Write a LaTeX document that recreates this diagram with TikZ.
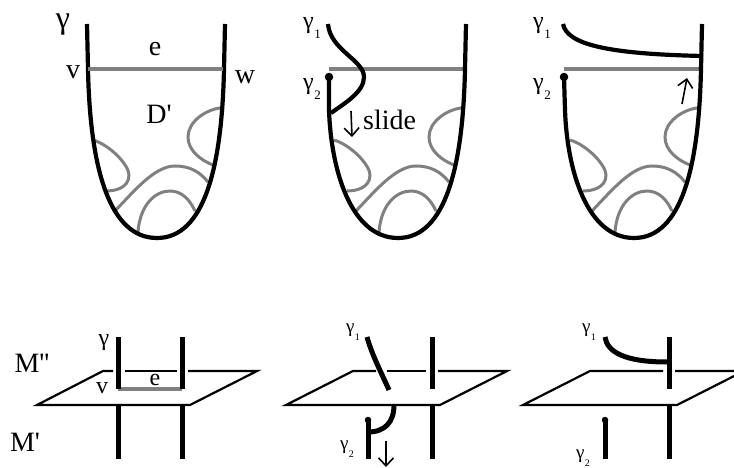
\documentclass[tikz,border=0pt]{standalone}
\usepackage{fontspec}
\setmainfont{Liberation Serif}
\usetikzlibrary{arrows.meta}
\newcommand{\gammasub}[2]{γ\kern0.02em\raisebox{-0.42em}{\fontsize{#2}{#2}\selectfont #1}}
\tikzset{
  strand/.style={line width=4.2pt},
  post/.style={line width=5pt},
  band/.style={line width=3pt, color=black!50},
  bandedge/.style={line width=3.8pt, color=black!50},
  plane/.style={line width=2.2pt, line join=miter},
  slidearrow/.style={line width=1.6pt, -{Straight Barb[length=8pt, width=15pt, line width=1.6pt]}},
  lbl/.style={inner sep=0pt, font=\fontsize{28}{30}\selectfont},
  sublbl/.style={inner sep=0pt, font=\fontsize{24}{26}\selectfont},
  minilbl/.style={inner sep=0pt, font=\fontsize{19}{21}\selectfont},
  tip/.style={circle, fill=black, inner sep=0pt, minimum size=8.5pt}
}

\begin{document}
\begin{tikzpicture}[x=1pt, y=-1pt]
    \useasboundingbox (0,0) rectangle (734,468);

    % Grey arcs inside each disc
    \foreach \dx in {0,241,477} {
      \begin{scope}[xshift=\dx pt]
        \draw[band] (93,140) .. controls (110,145) and (129,165) .. (129,175) .. controls (129,188) and (115,191) .. (106,191);
        \draw[band] (220,108) .. controls (205,110) and (188,122) .. (188,137) .. controls (188,150) and (200,160) .. (213,165);
        \draw[band] (115,211) .. controls (135,190) and (155,166) .. (175,166) .. controls (190,166) and (200,172) .. (208,182);
        \draw[band] (138,232) .. controls (140,205) and (155,191) .. (170,191) .. controls (182,191) and (190,200) .. (195,211);
      \end{scope}
    }

    % Top left disc
    \draw[strand] (87,24) -- (88,69) .. controls (90,170) and (110,238) .. (157,238) .. controls (205,238) and (222,165) .. (224,69) -- (225,24);
    \draw[bandedge] (88,69) -- (223,69);
    \node[lbl, font=\fontsize{32}{34}\selectfont] (gammaA) at (63,25) {γ};
    \node[lbl] (edgeA) at (155,49) {e};
    \node[lbl] (vA) at (73,72) {v};
    \node[lbl] (wA) at (245,77) {w};
    \node[lbl] (discA) at (159,114) {D\textquotesingle};

    % Top middle disc
    \draw[bandedge] (329,69) -- (465,69);
    \node[tip] (dotB) at (329,77) {};
    \draw[strand] (dotB.center) -- (329,110) .. controls (331,170) and (351,238) .. (398,238) .. controls (446,238) and (463,165) .. (465,69) -- (466,24);
    \draw[strand] (328,24) .. controls (330,50) and (364,60) .. (364,77) .. controls (364,92) and (345,103) .. (331,113);
    \draw[slidearrow] (351,111) -- (352,137);
    \node[sublbl] (gammaB) at (312,28) {\gammasub{1}{13}};
    \node[sublbl] (gammaC) at (312,89) {\gammasub{2}{13}};
    \node[lbl, anchor=west] (slide) at (363,120) {slide};

    % Top right disc
    \draw[bandedge] (564,69) -- (700,69);
    \node[tip] (dotC) at (564,77) {};
    \draw[strand] (dotC.center) -- (565,110) .. controls (567,170) and (587,238) .. (634,238) .. controls (682,238) and (699,165) .. (701,69) -- (702,24);
    \draw[strand] (563,24) .. controls (567,45) and (610,54) .. (703,56);
    \draw[slidearrow] (682,104) -- (687,78);
    \node[sublbl] (gammaD) at (542,28) {\gammasub{1}{13}};
    \node[sublbl] (gammaE) at (542,89) {\gammasub{2}{13}};

    % Bottom left plane
    \draw[plane] (113,371) -- (103,371) -- (37,405) -- (190,405) -- (257,371) -- (188,371);
    \draw[plane] (125,371) -- (177,371);
    \draw[bandedge] (118,389) -- (182,389);
    \draw[post] (118,337) -- (118,389);
    \draw[post] (182,337) -- (182,389);
    \draw[post] (118,405) -- (118,459);
    \draw[post] (182,405) -- (182,459);
    \node[sublbl] (gammaF) at (104,343) {γ};
    \node[sublbl] (vF) at (102,388) {v};
    \node[sublbl] (edgeF) at (155,380) {e};
    \node[lbl] (upper) at (32,363) {M\textquotesingle\textquotesingle};
    \node[lbl] (lower) at (25,442) {M\textquotesingle};

    % Bottom middle plane
    \draw[plane] (376,371) -- (353,371) -- (286,405) -- (440,405) -- (507,371) -- (438,371);
    \draw[plane] (387,371) -- (426,371);
    \draw[post] (432,337) -- (432,389);
    \draw[post] (432,405) -- (432,459);
    \draw[post] (367,337) .. controls (372,355) and (381,372) .. (389,390);
    \node[tip, minimum size=6.5pt] (dotG) at (368,420) {};
    \draw[post] (dotG.center) -- (368,459);
    \draw[post] (394,405) .. controls (394,422) and (385,432) .. (368,432);
    \draw[slidearrow] (386,441) -- (386,467);
    \node[minilbl] (gammaG) at (353,332) {\gammasub{1}{10}};
    \node[minilbl] (gammaH) at (347,449) {\gammasub{2}{10}};

    % Bottom right plane
    \draw[plane] (663,371) -- (590,371) -- (523,405) -- (677,405) -- (744,371) -- (675,371);
    \draw[post] (669,337) -- (669,389);
    \draw[post] (669,405) -- (669,459);
    \draw[post] (605,337) .. controls (607,352) and (625,362) .. (667,362);
    \node[tip, minimum size=6.5pt] (dotI) at (605,420) {};
    \draw[post] (dotI.center) -- (605,459);
    \node[minilbl] (gammaI) at (589,332) {\gammasub{1}{10}};
    \node[minilbl] (gammaJ) at (583,458) {\gammasub{2}{10}};

\end{tikzpicture}
\end{document}
